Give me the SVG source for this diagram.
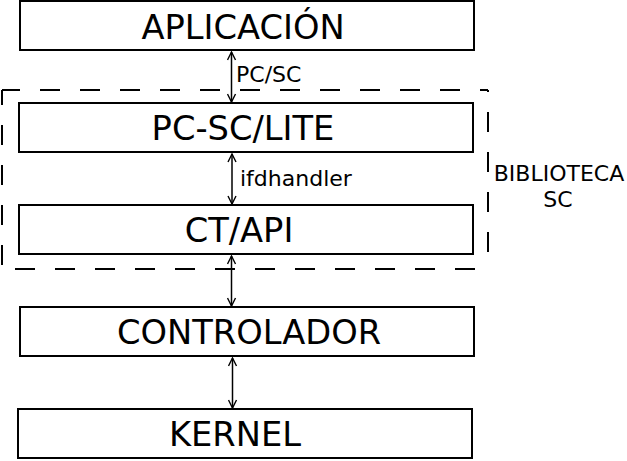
<svg xmlns="http://www.w3.org/2000/svg" width="627" height="461" viewBox="0 0 627 461">
<style>
.box{fill:#fff;stroke:#000;stroke-width:2}
.t{font-family:"DejaVu Sans",sans-serif;font-size:33.7px;text-anchor:middle;fill:#000}
.l{font-family:"DejaVu Sans",sans-serif;font-size:22px;fill:#000}
.c{stroke:#000;stroke-width:1.5;fill:none}
.d{stroke:#000;stroke-width:2;fill:none;stroke-dasharray:20 20}
</style>
<defs>
<marker id="ah" viewBox="0 0 10 10" refX="9" refY="5" markerWidth="10" markerHeight="10" markerUnits="userSpaceOnUse" orient="auto-start-reverse">
<path d="M1,1 L9,5 L1,9" fill="none" stroke="#000" stroke-width="1.4"/>
</marker>
</defs>
<g id="biblioteca-sc">
<line class="d" x1="2" y1="90" x2="488" y2="90" stroke-dashoffset="2"/>
<line class="d" x1="488" y1="90" x2="488" y2="269" stroke-dashoffset="18"/>
<line class="d" x1="2" y1="269" x2="488" y2="269" stroke-dashoffset="27"/>
<line class="d" x1="2" y1="90" x2="2" y2="269" stroke-dashoffset="5"/>
<text class="l" x="559" y="181" text-anchor="middle">BIBLIOTECA</text>
<text class="l" x="558" y="207" text-anchor="middle">SC</text>
</g>
<g id="aplicacion">
<rect class="box" x="20" y="1" width="454" height="49"/>
<text class="t" x="243" y="39">APLICACIÓN</text>
</g>
<g id="pcsc-lite">
<rect class="box" x="19" y="103" width="454" height="49"/>
<text class="t" x="243" y="140">PC-SC/LITE</text>
</g>
<g id="ctapi">
<rect class="box" x="19" y="205" width="454" height="49"/>
<text class="t" x="239" y="242">CT/API</text>
</g>
<g id="controlador">
<rect class="box" x="20" y="307" width="454" height="49"/>
<text class="t" x="249" y="344">CONTROLADOR</text>
</g>
<g id="kernel">
<rect class="box" x="18" y="409" width="454" height="49"/>
<text class="t" x="235" y="446">KERNEL</text>
</g>
<g id="connectors">
<line class="c" x1="231.5" y1="52" x2="231.5" y2="102" marker-start="url(#ah)" marker-end="url(#ah)"/>
<line class="c" x1="232" y1="154" x2="232" y2="204" marker-start="url(#ah)" marker-end="url(#ah)"/>
<line class="c" x1="231.5" y1="256" x2="231.5" y2="306" marker-start="url(#ah)" marker-end="url(#ah)"/>
<line class="c" x1="232.5" y1="358" x2="232.5" y2="408" marker-start="url(#ah)" marker-end="url(#ah)"/>
<text class="l" x="236" y="82">PC/SC</text>
<text class="l" x="240" y="186">ifdhandler</text>
</g>
</svg>
